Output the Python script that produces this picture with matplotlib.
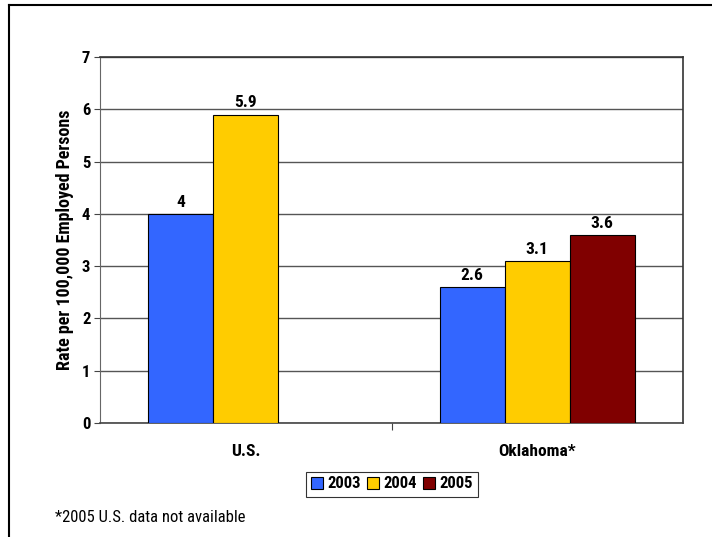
import numpy as np
import matplotlib
matplotlib.use("Agg")
import matplotlib.pyplot as plt
from matplotlib.lines import Line2D

FONT = ["Roboto Condensed", "DejaVu Sans"]
plt.rcParams["font.family"] = FONT

categories = ["U.S.", "Oklahoma*"]
years = ["2003", "2004", "2005"]
values = {
    "2003": [4.0, 2.6],
    "2004": [5.9, 3.1],
    "2005": [np.nan, 3.6],
}
colors = {"2003": "#3366FF", "2004": "#FFCC00", "2005": "#800000"}
labels = {"2003": ["4", "2.6"], "2004": ["5.9", "3.1"], "2005": ["", "3.6"]}

FS = 12

fig = plt.figure(figsize=(7.12, 5.37), dpi=100)
ax = fig.add_axes([100/712, 1 - 423/537, 583/712, 366/537])

x = np.arange(len(categories))
w = 0.223
for i, yr in enumerate(years):
    vals = np.array(values[yr], dtype=float)
    pos = x + (i - 1) * w
    for p, v, lab in zip(pos, vals, labels[yr]):
        if np.isnan(v):
            continue
        ax.bar(p, v, width=w, color=colors[yr], edgecolor="black", linewidth=0.8, zorder=3)
        ax.text(p, v + 0.08, lab, ha="center", va="bottom", fontsize=12.5, fontweight="bold")

ax.set_xlim(-0.5, 1.5)
ax.set_ylim(0, 7)
ax.set_yticks(range(8))
ax.set_yticklabels([str(t) for t in range(8)], fontsize=FS, fontweight="bold")
ax.set_xticks([0.5])
ax.set_xticklabels([])
ax.tick_params(axis="x", length=5, direction="out", width=0.8, color="#444444")
ax.tick_params(axis="y", length=4, direction="out", width=0.8, color="#444444", pad=3)
for c, name in zip(x, categories):
    ax.text(c, -0.55, name, ha="center", va="center", fontsize=12.5, fontweight="bold")

ax.yaxis.grid(True, color="#555555", linewidth=1.0, zorder=0)
for s in ["top", "right"]:
    ax.spines[s].set_color("#333333")
    ax.spines[s].set_linewidth(1.2)
ax.spines["left"].set_color("#666666")
ax.spines["bottom"].set_color("#444444")
ax.spines["bottom"].set_linewidth(1.2)

ax.set_ylabel("Rate per 100,000 Employed Persons", fontsize=13, fontweight="bold", labelpad=6)

handles = [plt.Rectangle((0, 0), 1, 1, facecolor=colors[yr], edgecolor="black", linewidth=0.8)
           for yr in years]
leg = fig.legend(handles, years, loc="center", bbox_to_anchor=(392/712, 1 - 484/537), ncol=3,
                 frameon=True, fancybox=False, edgecolor="black", handlelength=0.7,
                 handleheight=0.7, handletextpad=0.25, columnspacing=0.4, borderpad=0.3,
                 borderaxespad=0.3, prop={"family": FONT, "weight": "bold", "size": FS})
leg.get_frame().set_linewidth(0.8)

fig.text(55/712, 1 - 517/537, "*2005 U.S. data not available", fontsize=FS, va="center", ha="left")

# outer page frame
fig.add_artist(Line2D([9/712, 9/712], [0, 1 - 5/537], color="black", linewidth=1.5,
                      transform=fig.transFigure))
fig.add_artist(Line2D([9/712, 1], [1 - 5/537, 1 - 5/537], color="black", linewidth=1.5,
                      transform=fig.transFigure))

fig.savefig("out.png", dpi=100)
